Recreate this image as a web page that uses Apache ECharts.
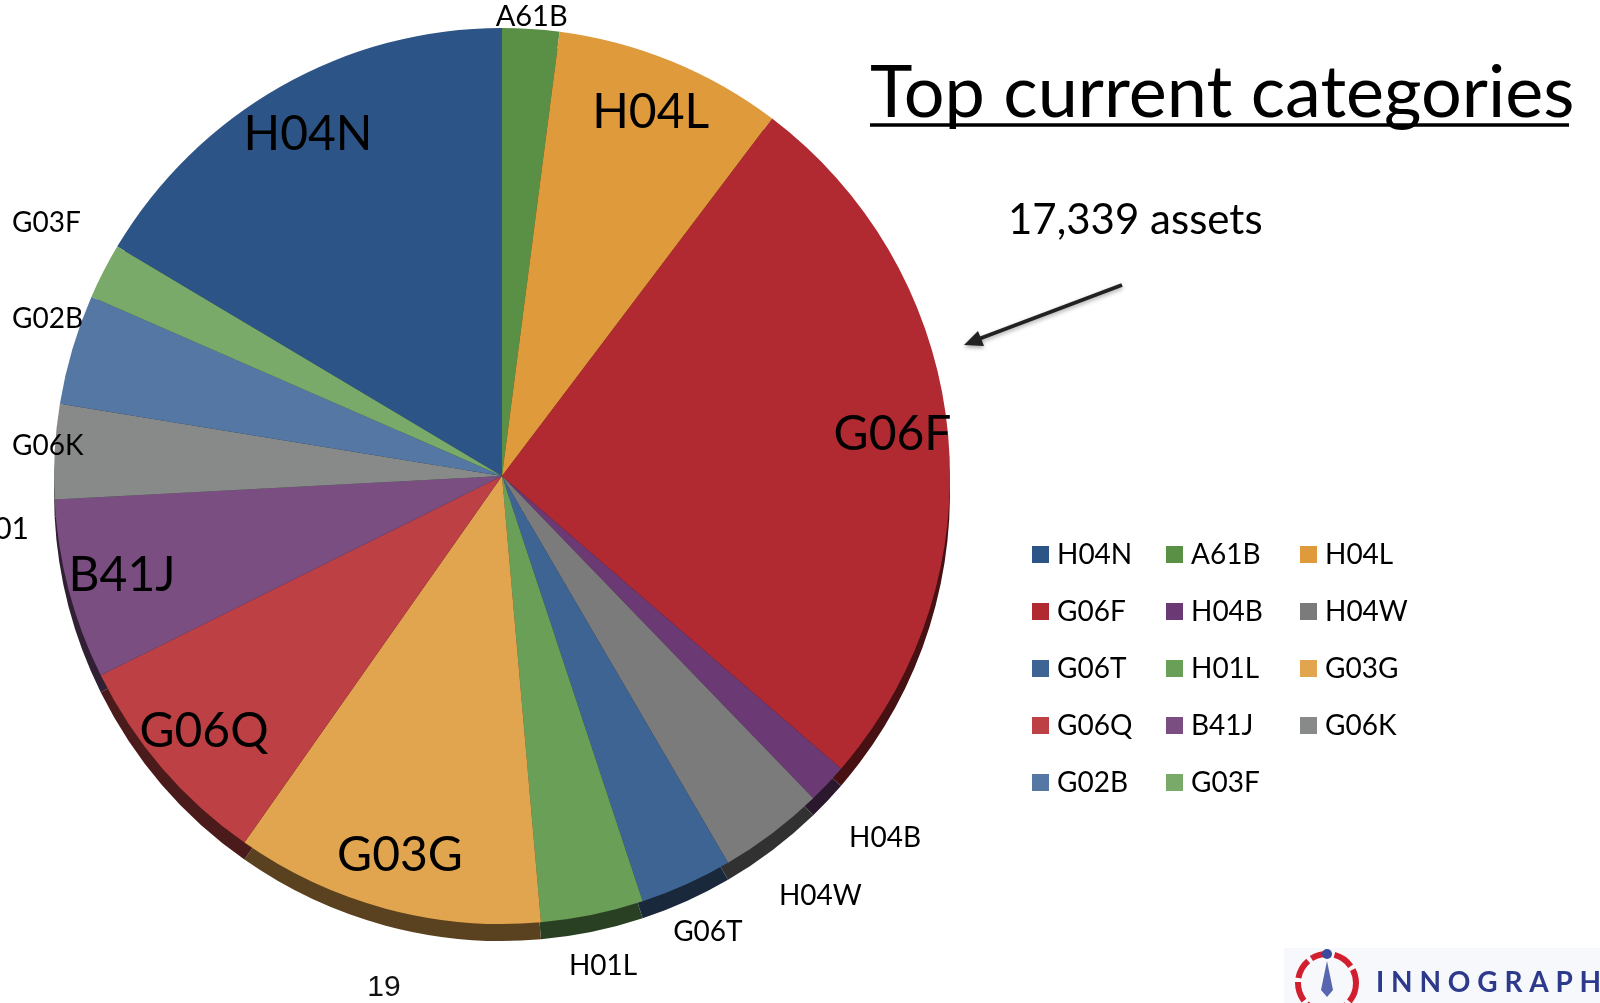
<!DOCTYPE html>
<html>
<head>
<meta charset="utf-8">
<title>Top current categories</title>
<script src="https://cdn.jsdelivr.net/npm/echarts@6/dist/echarts.min.js"></script>
<style>
  html, body { margin: 0; padding: 0; background: #fff; }
  #chart { width: 1600px; height: 1003px; }
</style>
</head>
<body>
<div id="chart"></div>
<script>
// patent classes, in legend order (first slice ends at 12 o'clock)
const categories = ['H04N', 'A61B', 'H04L', 'G06F', 'H04B', 'H04W', 'G06T', 'H01L', 'G03G', 'G06Q', 'B41J', 'G06K', 'G02B', 'G03F']
const assets = [2851, 356, 1430, 4514, 250, 660, 578, 641, 1931, 1373, 1127, 592, 689, 347]
const colors = ['#2d5486', '#5a9045', '#de9a3b', '#b12a31', '#6b3973', '#7a7b7a', '#3e6493',
  '#6a9f57', '#e1a54f', '#bc4044', '#7b4e82', '#878a88', '#5577a3', '#7aaa69']

// where each label is drawn
const bigLabels = ['H04N', 'H04L', 'G06F', 'G03G', 'G06Q', 'B41J']
const topLabels = ['A61B']
const rightLabels = ['H04B', 'H04W']
const bottomLabels = ['G06T', 'H01L']
const leftLabels = ['G03F', 'G02B', 'G06K']

const CENTER = [502, 476]
const R = 448
const DEPTH = 17
const FONT = 'Lato'

const total = assets.reduce((s, v) => s + v, 0)
const startAngle = 90 + assets[0] / total * 360

const pieData = (show) => categories.map((name, i) => ({
  name,
  value: assets[i],
  label: { show: show ? show.includes(name) : false }
}))

function darken(hex, k) {
  const n = parseInt(hex.slice(1), 16)
  const r = Math.round((n >> 16 & 255) * k)
  const g = Math.round((n >> 8 & 255) * k)
  const b = Math.round((n & 255) * k)
  return `rgb(${r},${g},${b})`
}

// transparent ring only used to place labels at a given radius
function labelRing(r0, r1, names, fontSize) {
  return {
    type: 'pie',
    z: 4,
    silent: true,
    legendHoverLink: false,
    center: CENTER,
    radius: [r0, r1],
    startAngle,
    clockwise: true,
    avoidLabelOverlap: false,
    itemStyle: { color: 'transparent' },
    label: { position: 'inside', fontFamily: FONT, fontSize, color: '#000' },
    labelLine: { show: false },
    data: pieData(names)
  }
}

const chart = echarts.init(document.getElementById('chart'))

chart.setOption({
  animation: false,
  color: colors,
  legend: {
    data: categories,
    left: 1032,
    top: 532,
    width: 410,
    padding: 0,
    icon: 'rect',
    itemWidth: 17,
    itemHeight: 17,
    itemGap: 12,
    selectedMode: false,
    textStyle: {
      fontFamily: FONT,
      fontSize: 28,
      color: '#000',
      width: 97,
      lineHeight: 45,
      padding: [0, 0, 0, 3]
    }
  },
  series: [
    {
      type: 'pie',
      name: 'Top current categories',
      z: 2,
      center: CENTER,
      radius: [0, R],
      startAngle,
      clockwise: true,
      label: { show: false },
      labelLine: { show: false },
      emphasis: { scale: false },
      data: pieData(null)
    },
    {
      // darker copy shifted down: side of the 3D disc
      type: 'pie',
      z: 1,
      silent: true,
      legendHoverLink: false,
      center: [CENTER[0], CENTER[1] + DEPTH],
      radius: [0, R],
      startAngle,
      clockwise: true,
      itemStyle: { color: p => darken(colors[p.dataIndex], 0.4) },
      label: { show: false },
      labelLine: { show: false },
      data: pieData(null)
    },
    labelRing(R * 0.74, R, bigLabels, 48),
    labelRing(R * 0.99, R * 1.05, topLabels, 29),
    labelRing(R * 1.12, R * 1.22, rightLabels, 28),
    labelRing(R * 1.06, R * 1.16, bottomLabels, 28),
    {
      type: 'pie',
      z: 4,
      silent: true,
      legendHoverLink: false,
      center: CENTER,
      radius: [0, R],
      startAngle,
      clockwise: true,
      avoidLabelOverlap: false,
      itemStyle: { color: 'transparent' },
      label: {
        position: 'outside',
        alignTo: 'edge',
        edgeDistance: 12,
        fontFamily: FONT,
        fontSize: 28,
        color: '#000'
      },
      labelLine: { show: false, length: 105, length2: 0 },
      data: pieData(leftLabels)
    }
  ],
  graphic: [
    {
      type: 'text', x: 870, y: 94,
      style: { text: 'Top current categories', font: '72px Lato', fill: '#000', textVerticalAlign: 'middle' }
    },
    {
      type: 'line',
      shape: { x1: 870, y1: 125, x2: 1569, y2: 125 },
      style: { stroke: '#000', lineWidth: 3.5 }
    },
    {
      type: 'text', x: 1008, y: 220,
      style: { text: '17,339 assets', font: '42px Lato', fill: '#000', textVerticalAlign: 'middle' }
    },
    {
      type: 'group',
      children: [
        {
          type: 'line',
          shape: { x1: 1122, y1: 285, x2: 976, y2: 340 },
          style: { stroke: '#222', lineWidth: 4, shadowBlur: 4, shadowColor: 'rgba(0,0,0,0.35)', shadowOffsetY: 2 }
        },
        {
          type: 'polygon',
          shape: { points: [[964, 345], [984, 346], [978, 331]] },
          style: { fill: '#222', shadowBlur: 4, shadowColor: 'rgba(0,0,0,0.35)', shadowOffsetY: 2 }
        }
      ]
    },
    {
      type: 'text', x: 29, y: 529,
      style: { text: 'H01', font: '30px Lato', fill: '#000', textAlign: 'right', textVerticalAlign: 'middle' }
    },
    {
      type: 'text', x: 384, y: 988,
      style: { text: '19', font: '30px "Liberation Sans"', fill: '#111', textAlign: 'center', textVerticalAlign: 'middle' }
    },
    {
      type: 'group',
      children: [
        { type: 'rect', shape: { x: 1284, y: 948, width: 316, height: 55 }, style: { fill: '#f6f8fc' } },
        {
          type: 'arc',
          shape: { cx: 1327, cy: 983, r: 29 },
          style: { stroke: '#d21f30', lineWidth: 6, fill: 'none', lineDash: [20, 4] }
        },
        { type: 'circle', shape: { cx: 1327, cy: 954, r: 5 }, style: { fill: '#3a4a9c' } },
        {
          type: 'polygon',
          shape: { points: [[1327, 961], [1333, 990], [1327, 997], [1321, 990]] },
          style: { fill: '#5866b0' }
        },
        {
          type: 'text', x: 1376, y: 983,
          style: { text: 'I N N O G R A P H Y', font: 'bold 28px Lato', fill: '#2d3a8c', textVerticalAlign: 'middle' }
        }
      ]
    }
  ]
})
</script>
</body>
</html>
